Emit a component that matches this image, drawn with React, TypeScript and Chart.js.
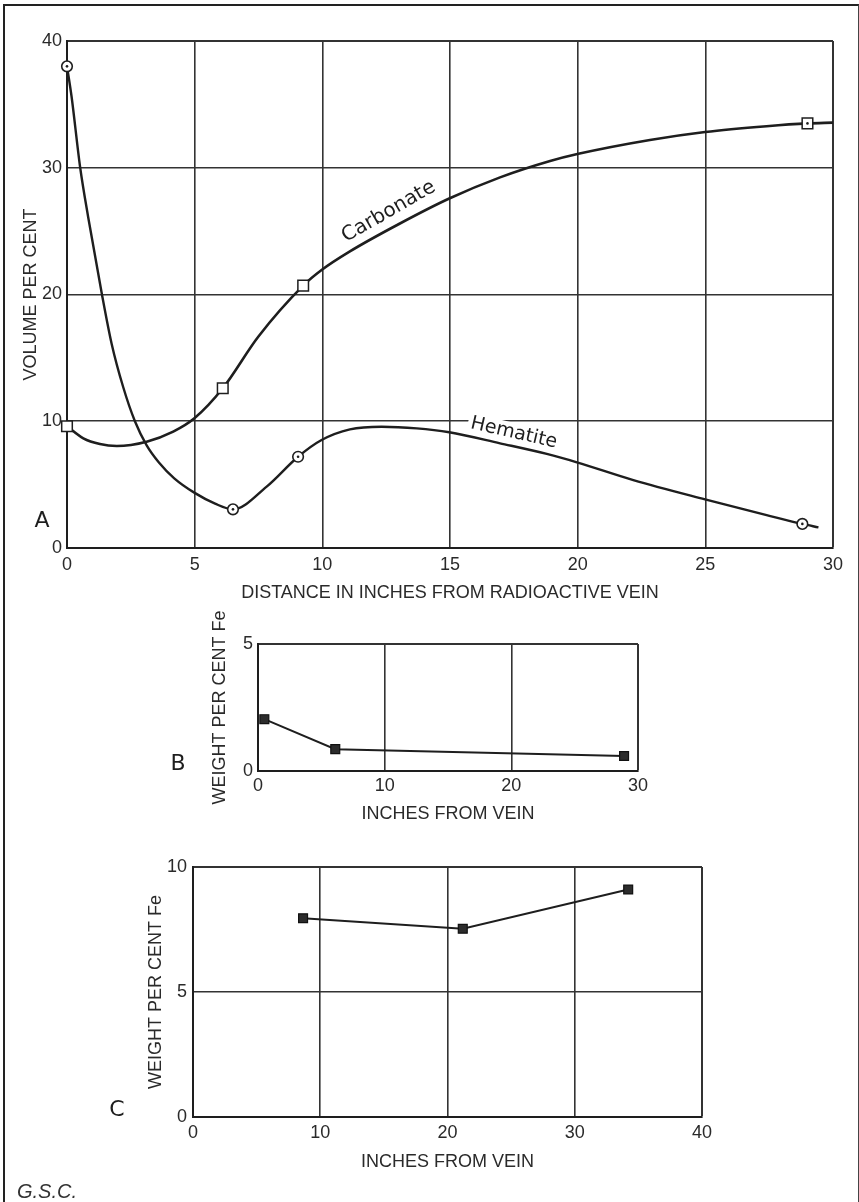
import React, { useEffect, useRef } from "react";
import { Chart, registerables } from "chart.js";

Chart.register(...registerables);

// ---------------- Panel A: volume per cent vs distance from vein ----------------
const aXTicks = [0, 5, 10, 15, 20, 25, 30];
const aYTicks = [0, 10, 20, 30, 40];
const aXTitle = "DISTANCE IN INCHES FROM RADIOACTIVE VEIN";
const aYTitle = "VOLUME PER CENT";

// sample points (markers)
const carbonateX = [0, 6.1, 9.25, 29];
const carbonateY = [9.6, 12.6, 20.7, 33.5];
const carbonateDotR = [0, 0, 0, 1.3];
const hematiteX = [0, 6.5, 9.05, 28.8];
const hematiteY = [38, 3.05, 7.2, 1.9];

// hand-drawn curves
const carbonateCurveX = [0, 0.64, 1.29, 1.95, 3.12, 4.16, 4.99, 6.1, 7.49, 9.25, 9.97, 11.08, 13.04, 14.97, 16.96, 18.92, 20.03, 22.83, 24.99, 27.4, 29, 30];
const carbonateCurveY = [9.6, 8.65, 8.2, 8.05, 8.39, 9.18, 10.23, 12.6, 16.67, 20.7, 21.93, 23.4, 25.6, 27.57, 29.24, 30.53, 31.1, 32.19, 32.82, 33.28, 33.5, 33.56];
const hematiteCurveX = [0, 0.18, 0.51, 0.83, 1.36, 1.75, 2.2, 2.66, 3.12, 3.6, 4.2, 5.0, 5.8, 6.5, 7.82, 9.05, 9.97, 11.08, 12.32, 13.7, 14.97, 16.96, 18.79, 19.97, 22.18, 24.99, 27.4, 28.8, 29.43];
const hematiteCurveY = [38, 35.6, 30.1, 26.1, 20.1, 16.1, 12.7, 10.0, 8.1, 6.75, 5.5, 4.35, 3.5, 3.05, 4.84, 7.2, 8.52, 9.36, 9.57, 9.44, 9.13, 8.26, 7.42, 6.76, 5.36, 3.84, 2.6, 1.9, 1.63];

const curveNames = ["Carbonate", "Hematite"];
const carbonateLabelAt = [12.6, 26.53];
const carbonateLabelAngle = -30;
const hematiteLabelAt = [17.5, 9.07];
const hematiteLabelAngle = 13;

// ---------------- Panel B ----------------
const bXTicks = [0, 10, 20, 30];
const bYTicks = [0, 5];
const bX = [0.5, 6.1, 28.9];
const bY = [2.04, 0.86, 0.59];

// ---------------- Panel C ----------------
const cXTicks = [0, 10, 20, 30, 40];
const cYTicks = [0, 5, 10];
const cX = [8.65, 21.2, 34.2];
const cY = [7.95, 7.53, 9.1];

const bcXTitle = "INCHES FROM VEIN";
const bcYTitle = "WEIGHT PER CENT Fe";
const panelLetters = ["A", "B", "C"];
const creditText = "G.S.C.";

// ---------------- styles ----------------
const INK = "#1e1e1e";
const GRID = "#333333";
const TEXT = "#2a2a2a";
const TICK_FONT = { family: '"Liberation Sans Narrow", "Arial Narrow", "Liberation Sans", Arial, sans-serif', size: 18 };
const TITLE_FONT = { family: '"Liberation Sans", Arial, sans-serif', size: 18 };
const LETTER_FONT = '22px "DejaVu Sans", sans-serif';

const pts = (xs: number[], ys: number[]) => xs.map((x, i) => ({ x, y: ys[i] }));

type AxisOpts = {
  ticks: number[];
  title: string;
  size: number;
  titlePad: { top: number; bottom: number };
  tickPad: number;
  vertical: boolean;
};

function makeAxis(o: AxisOpts) {
  const max = o.ticks[o.ticks.length - 1];
  return {
    type: "linear",
    position: o.vertical ? "left" : "bottom",
    min: o.ticks[0],
    max,
    afterBuildTicks: (s: any) => {
      s.ticks = o.ticks.map((v) => ({ value: v }));
    },
    afterFit: (s: any) => {
      if (o.vertical) s.width = o.size;
      else s.height = o.size;
    },
    grid: {
      color: GRID,
      lineWidth: (c: any) => (c.tick && c.tick.value === max ? 2 : 1.6),
      drawTicks: false,
    },
    border: { display: true, color: INK, width: 2 },
    ticks: {
      padding: o.tickPad,
      color: TEXT,
      font: TICK_FONT,
      autoSkip: false,
      maxRotation: 0,
      minRotation: 0,
    },
    title: { display: true, text: o.title, color: TEXT, font: TITLE_FONT, padding: o.titlePad },
  };
}

function baseOptions(padding: any, x: any, y: any) {
  return {
    responsive: false,
    maintainAspectRatio: false,
    animation: false,
    devicePixelRatio: 1,
    events: [],
    layout: { padding },
    plugins: { legend: { display: false }, tooltip: { enabled: false } },
    scales: { x, y },
  };
}

function letterPlugin(letter: string, px: number, py: number) {
  return {
    id: "panelLetter" + letter,
    afterDraw(chart: any) {
      const ctx = chart.ctx;
      ctx.save();
      ctx.font = LETTER_FONT;
      ctx.fillStyle = INK;
      ctx.textAlign = "center";
      ctx.textBaseline = "middle";
      ctx.fillText(letter, px, py);
      ctx.restore();
    },
  };
}

const curveLabelPlugin = {
  id: "curveLabels",
  beforeDatasetsDraw(chart: any) {
    const { ctx, scales } = chart;
    const cx = scales.x.getPixelForValue(hematiteLabelAt[0]);
    const cy = scales.y.getPixelForValue(hematiteLabelAt[1]);
    ctx.save();
    ctx.translate(cx, cy);
    ctx.rotate((hematiteLabelAngle * Math.PI) / 180);
    ctx.font = '19px "DejaVu Sans", sans-serif';
    const w = ctx.measureText(curveNames[1]).width;
    ctx.fillStyle = "#ffffff";
    ctx.fillRect(-w / 2 - 3, -10, w + 6, 18);
    ctx.restore();
  },
  afterDatasetsDraw(chart: any) {
    const { ctx, scales } = chart;
    const draw = (text: string, at: number[], angle: number, size: number) => {
      ctx.save();
      ctx.translate(scales.x.getPixelForValue(at[0]), scales.y.getPixelForValue(at[1]));
      ctx.rotate((angle * Math.PI) / 180);
      ctx.font = `${size}px "DejaVu Sans", sans-serif`;
      ctx.fillStyle = INK;
      ctx.textAlign = "center";
      ctx.textBaseline = "middle";
      ctx.fillText(text, 0, 0);
      ctx.restore();
    };
    draw(curveNames[0], carbonateLabelAt, carbonateLabelAngle, 20);
    draw(curveNames[1], hematiteLabelAt, hematiteLabelAngle, 19);
  },
};

function buildA() {
  return {
    type: "scatter",
    data: {
      datasets: [
        {
          label: "Hematite centre",
          data: pts(hematiteX, hematiteY),
          showLine: false,
          clip: false,
          pointStyle: "circle",
          pointRadius: 1.3,
          pointBackgroundColor: INK,
          pointBorderWidth: 0,
          order: 0,
        },
        {
          label: "Carbonate centre",
          data: pts(carbonateX, carbonateY),
          showLine: false,
          clip: false,
          pointStyle: "circle",
          pointRadius: carbonateDotR,
          pointBackgroundColor: INK,
          pointBorderWidth: 0,
          order: 0,
        },
        {
          label: "Hematite samples",
          data: pts(hematiteX, hematiteY),
          showLine: false,
          clip: false,
          pointStyle: "circle",
          pointRadius: 5.3,
          pointBackgroundColor: "#ffffff",
          pointBorderColor: INK,
          pointBorderWidth: 1.6,
          order: 1,
        },
        {
          label: "Carbonate samples",
          data: pts(carbonateX, carbonateY),
          showLine: false,
          clip: false,
          pointStyle: "rect",
          pointRadius: 7.5,
          pointBackgroundColor: "#ffffff",
          pointBorderColor: INK,
          pointBorderWidth: 1.5,
          order: 1,
        },
        {
          label: curveNames[1],
          data: pts(hematiteCurveX, hematiteCurveY),
          showLine: true,
          pointRadius: 0,
          borderColor: INK,
          borderWidth: 2.4,
          cubicInterpolationMode: "monotone",
          order: 2,
        },
        {
          label: curveNames[0],
          data: pts(carbonateCurveX, carbonateCurveY),
          showLine: true,
          clip: false,
          pointRadius: 0,
          borderColor: INK,
          borderWidth: 2.6,
          cubicInterpolationMode: "monotone",
          order: 2,
        },
      ],
    },
    options: baseOptions(
      { left: 0, top: 41, right: 26, bottom: 0 },
      makeAxis({ ticks: aXTicks, title: aXTitle, size: 72, titlePad: { top: 0, bottom: 16 }, tickPad: 6, vertical: false }),
      makeAxis({ ticks: aYTicks, title: aYTitle, size: 67, titlePad: { top: 20, bottom: 0 }, tickPad: 5, vertical: true })
    ),
    plugins: [curveLabelPlugin, letterPlugin(panelLetters[0], 42, 521)],
  };
}

function weightDataset(xs: number[], ys: number[]) {
  return {
    label: bcYTitle,
    data: pts(xs, ys),
    showLine: true,
    clip: false,
    borderColor: INK,
    borderWidth: 2,
    tension: 0,
    pointStyle: "rect",
    pointRadius: 6.3,
    pointBackgroundColor: "#2c2c2c",
    pointBorderColor: "#111111",
    pointBorderWidth: 1.2,
  };
}

function buildB() {
  return {
    type: "scatter",
    data: { datasets: [weightDataset(bX, bY)] },
    options: baseOptions(
      { left: 190, top: 44, right: 221, bottom: 0 },
      makeAxis({ ticks: bXTicks, title: bcXTitle, size: 69, titlePad: { top: 0, bottom: 15 }, tickPad: 4, vertical: false }),
      makeAxis({ ticks: bYTicks, title: bcYTitle, size: 68, titlePad: { top: 19, bottom: 0 }, tickPad: 5, vertical: true })
    ),
    plugins: [letterPlugin(panelLetters[1], 178, 164)],
  };
}

function buildC() {
  return {
    type: "scatter",
    data: { datasets: [weightDataset(cX, cY)] },
    options: baseOptions(
      { left: 125, top: 27, right: 157, bottom: 20 },
      makeAxis({ ticks: cXTicks, title: bcXTitle, size: 65, titlePad: { top: 0, bottom: 9 }, tickPad: 5, vertical: false }),
      makeAxis({ ticks: cYTicks, title: bcYTitle, size: 68, titlePad: { top: 20, bottom: 0 }, tickPad: 6, vertical: true })
    ),
    plugins: [letterPlugin(panelLetters[2], 117, 270)],
  };
}

function ChartPanel({ top, height, build }: { top: number; height: number; build: () => any }) {
  const ref = useRef<HTMLCanvasElement | null>(null);
  useEffect(() => {
    if (!ref.current) return;
    const chart = new Chart(ref.current, build());
    return () => chart.destroy();
  }, []);
  return (
    <canvas
      ref={ref}
      width={859}
      height={height}
      style={{ position: "absolute", left: 0, top, width: 859, height, display: "block" }}
    />
  );
}

export default function App() {
  useEffect(() => {
    document.body.style.margin = "0";
    document.documentElement.style.overflow = "hidden";
  }, []);
  return (
    <div
      style={{
        position: "fixed",
        left: 0,
        top: 0,
        width: 859,
        height: 1202,
        overflow: "hidden",
        background: "#ffffff",
      }}
    >
      <div
        style={{
          position: "absolute",
          left: 3,
          top: 4,
          width: 856,
          height: 1198,
          boxSizing: "border-box",
          borderLeft: "2px solid #222",
          borderTop: "2px solid #222",
          borderRight: "1px solid #444",
        }}
      />
      <ChartPanel top={0} height={620} build={buildA} />
      <ChartPanel top={600} height={240} build={buildB} />
      <ChartPanel top={840} height={362} build={buildC} />
      <div
        style={{
          position: "absolute",
          left: 17,
          top: 1181,
          fontFamily: '"Liberation Sans", Arial, sans-serif',
          fontStyle: "italic",
          fontSize: 20,
          lineHeight: "20px",
          color: "#333",
          whiteSpace: "nowrap",
        }}
      >
        {creditText}
      </div>
    </div>
  );
}
